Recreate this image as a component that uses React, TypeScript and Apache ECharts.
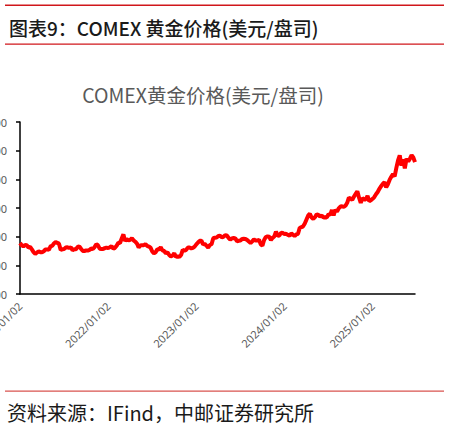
import React, { useEffect, useRef } from "react";
import * as echarts from "echarts";

const years = [2021, 2022, 2023, 2024, 2025];
const weeksPerYear = [52, 52, 52, 52, 26];

const price2021 = [
  1890, 1850, 1830, 1855, 1850, 1812, 1820, 1778, 1730, 1700, 1725, 1742, 1730,
  1728, 1745, 1777, 1778, 1768, 1832, 1840, 1880, 1905, 1892, 1878, 1770, 1780,
  1785, 1810, 1815, 1802, 1815, 1763, 1780, 1782, 1820, 1830, 1790, 1752, 1750,
  1760, 1757, 1768, 1795, 1785, 1818, 1868, 1850, 1790, 1785, 1784, 1800, 1810,
];
const price2022 = [
  1800, 1817, 1835, 1790, 1805, 1842, 1895, 1890, 1968, 2040, 1925, 1955, 1935,
  1945, 1975, 1935, 1912, 1880, 1812, 1845, 1852, 1850, 1872, 1840, 1828, 1808,
  1742, 1710, 1728, 1780, 1775, 1815, 1760, 1750, 1712, 1728, 1680, 1655, 1670,
  1710, 1648, 1660, 1645, 1680, 1770, 1754, 1768, 1810, 1810, 1795, 1805, 1826,
];
const price2023 = [
  1865, 1898, 1928, 1930, 1865, 1875, 1842, 1810, 1855, 1868, 1973, 1983, 1985,
  2010, 2015, 1990, 1999, 2025, 2019, 1980, 1948, 1970, 1977, 1970, 1920, 1929,
  1932, 1960, 1962, 1960, 1942, 1915, 1890, 1918, 1952, 1932, 1933, 1945, 1866,
  1845, 1942, 1993, 2005, 1999, 1942, 1980, 2003, 2089, 2014, 2019, 2069, 2063,
];
const price2024 = [
  2045, 2050, 2030, 2018, 2055, 2035, 2010, 2039, 2050, 2155, 2165, 2180, 2230,
  2300, 2370, 2400, 2335, 2310, 2340, 2390, 2380, 2350, 2370, 2335, 2340, 2335,
  2395, 2380, 2465, 2370, 2470, 2435, 2495, 2525, 2530, 2520, 2540, 2590, 2680,
  2665, 2640, 2700, 2745, 2790, 2680, 2590, 2670, 2650, 2650, 2710, 2620, 2635,
];
const price2025 = [
  2660, 2690, 2740, 2780, 2835, 2880, 2920, 2950, 2860, 2915, 2990, 3045, 3090,
  3050, 3200, 3330, 3420, 3240, 3350, 3190, 3360, 3310, 3360, 3420, 3380, 3300,
];

const yTicks = { min: 1000, max: 4000, interval: 500 };

function pad(n: number) {
  return n < 10 ? "0" + n : "" + n;
}

function buildDates(): string[] {
  const out: string[] = [];
  years.forEach((y, i) => {
    const start = new Date(Date.UTC(y, 0, 2));
    for (let w = 0; w < weeksPerYear[i]; w++) {
      const d = new Date(start.getTime() + w * 7 * 86400000);
      out.push(
        d.getUTCFullYear() + "/" + pad(d.getUTCMonth() + 1) + "/" + pad(d.getUTCDate())
      );
    }
  });
  return out;
}

export default function App() {
  const ref = useRef<HTMLDivElement>(null);
  useEffect(() => {
    document.body.style.margin = "0";
    if (!ref.current) return;
    const chart = echarts.init(ref.current, null, { renderer: "svg" });
    const dates = buildDates();
    const values = [...price2021, ...price2022, ...price2023, ...price2024, ...price2025];
    const cjk = '"Noto Sans CJK SC", "Noto Sans", sans-serif';
    chart.setOption({
      animation: false,
      backgroundColor: "#ffffff",
      title: {
        text: "COMEX黄金价格(美元/盘司)",
        left: 198,
        top: 80,
        textAlign: "center",
        textStyle: { fontFamily: cjk, fontSize: 19.5, fontWeight: "normal", color: "#595959" },
      },
      grid: {
        left: 20,
        top: 122,
        right: 34,
        bottom: 132,
        containLabel: false,
        outerBoundsMode: "none",
      },
      xAxis: {
        type: "category",
        data: dates,
        boundaryGap: false,
        axisLine: { lineStyle: { color: "#000", width: 1.5 } },
        axisTick: { show: false },
        axisLabel: {
          rotate: 45,
          margin: 10,
          fontSize: 11,
          fontFamily: '"Noto Sans", sans-serif',
          color: "#595959",
          interval: (_i: number, v: string) => v.endsWith("/01/02"),
        },
        splitLine: { show: false },
      },
      yAxis: {
        type: "value",
        min: yTicks.min,
        max: yTicks.max,
        interval: yTicks.interval,
        axisLine: { show: true, lineStyle: { color: "#000", width: 1.5 } },
        axisTick: { show: true, length: 4, lineStyle: { color: "#000", width: 1.5 } },
        axisLabel: {
          margin: 13,
          fontSize: 11,
          color: "#595959",
          fontFamily: '"Noto Sans", sans-serif',
          formatter: (v: number) => String(v),
        },
        splitLine: { show: false },
      },
      series: [
        {
          type: "line",
          data: values,
          showSymbol: false,
          lineStyle: { color: "#ff0000", width: 4 },
          itemStyle: { color: "#ff0000" },
        },
      ],
      graphic: [
        { type: "rect", shape: { x: 5, y: 4.5, width: 439, height: 1.5 }, style: { fill: "#d0161b" } },
        {
          type: "text",
          x: 9,
          y: 27,
          style: {
            text: "图表9：COMEX 黄金价格(美元/盘司)",
            fontFamily: cjk,
            fontSize: 19,
            fontWeight: 500,
            fill: "#1a1a1a",
            verticalAlign: "middle",
          },
        },
        { type: "rect", shape: { x: 5, y: 43.5, width: 439, height: 1.2 }, style: { fill: "#d0161b" } },
        { type: "rect", shape: { x: 5, y: 390.5, width: 439, height: 1.2 }, style: { fill: "#d9534f" } },
        {
          type: "text",
          x: 7,
          y: 412,
          style: {
            text: "资料来源：IFind，中邮证券研究所",
            fontFamily: cjk,
            fontSize: 20,
            fill: "#1a1a1a",
            verticalAlign: "middle",
          },
        },
      ],
    });
    return () => chart.dispose();
  }, []);
  return <div ref={ref} style={{ width: 449, height: 426 }} />;
}
